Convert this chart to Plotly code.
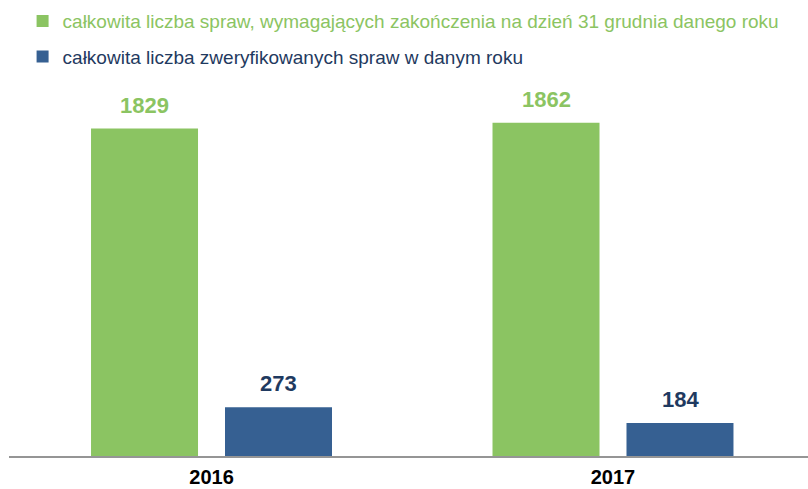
import plotly.graph_objects as go

years = ["2016", "2017"]
series_names = [
    "całkowita liczba spraw, wymagających zakończenia na dzień 31 grudnia danego roku",
    "całkowita liczba zweryfikowanych spraw w danym roku",
]
total_cases = [1829, 1862]
verified_cases = [273, 184]

GREEN = "#8BC462"
BLUE = "#366092"
NAVY = "#1F3A60"
FONT = "Liberation Sans, Arial, sans-serif"

fig = go.Figure()
fig.add_trace(go.Bar(
    x=years, y=total_cases, name=f"<span style='color:{GREEN}'>{series_names[0]}</span>",
    marker=dict(color=GREEN, line=dict(width=0)),
    width=0.2665, offset=-0.3001, legendgroup="a",
))
fig.add_trace(go.Bar(
    x=years, y=verified_cases, name=f"<span style='color:{NAVY}'>{series_names[1]}</span>",
    marker=dict(color=BLUE, line=dict(width=0)),
    width=0.2665, offset=0.0336, legendgroup="b",
))

annotations = []
for i, v in enumerate(total_cases):
    annotations.append(dict(x=i, y=v, xref="x", yref="y", text=f"<b>{v}</b>", showarrow=False,
                            xshift=-67, yshift=9, yanchor="bottom",
                            font=dict(size=22, color=GREEN, family=FONT)))
for i, v in enumerate(verified_cases):
    annotations.append(dict(x=i, y=v, xref="x", yref="y", text=f"<b>{v}</b>", showarrow=False,
                            xshift=67, yshift=9, yanchor="bottom",
                            font=dict(size=22, color=NAVY, family=FONT)))

fig.update_layout(
    width=808, height=489,
    margin=dict(l=9, r=0, t=98, b=33, autoexpand=False),
    paper_bgcolor="white", plot_bgcolor="white",
    font=dict(family=FONT),
    barmode="group",
    annotations=annotations,
    showlegend=True,
    legend=dict(x=0.017, y=1.268, xanchor="left", yanchor="top",
                font=dict(size=19, color=NAVY, family=FONT),
                tracegroupgap=8,
                bgcolor="rgba(0,0,0,0)"),
    xaxis=dict(type="category", range=[-0.5044, 1.4857], automargin=False,
               showline=True, linecolor="#959595", linewidth=2,
               showgrid=False, zeroline=False,
               ticks="outside", ticklen=2, tickcolor="rgba(0,0,0,0)",
               tickfont=dict(size=20, color="black", family=FONT),
               tickprefix="<b>", ticksuffix="</b>"),
    yaxis=dict(range=[0, 2000], showticklabels=False, showline=False,
               showgrid=False, zeroline=False, ticks="", automargin=False),
)

fig.write_html("out.html", post_script="document.body.style.margin='0';",
               config={"displayModeBar": False})
